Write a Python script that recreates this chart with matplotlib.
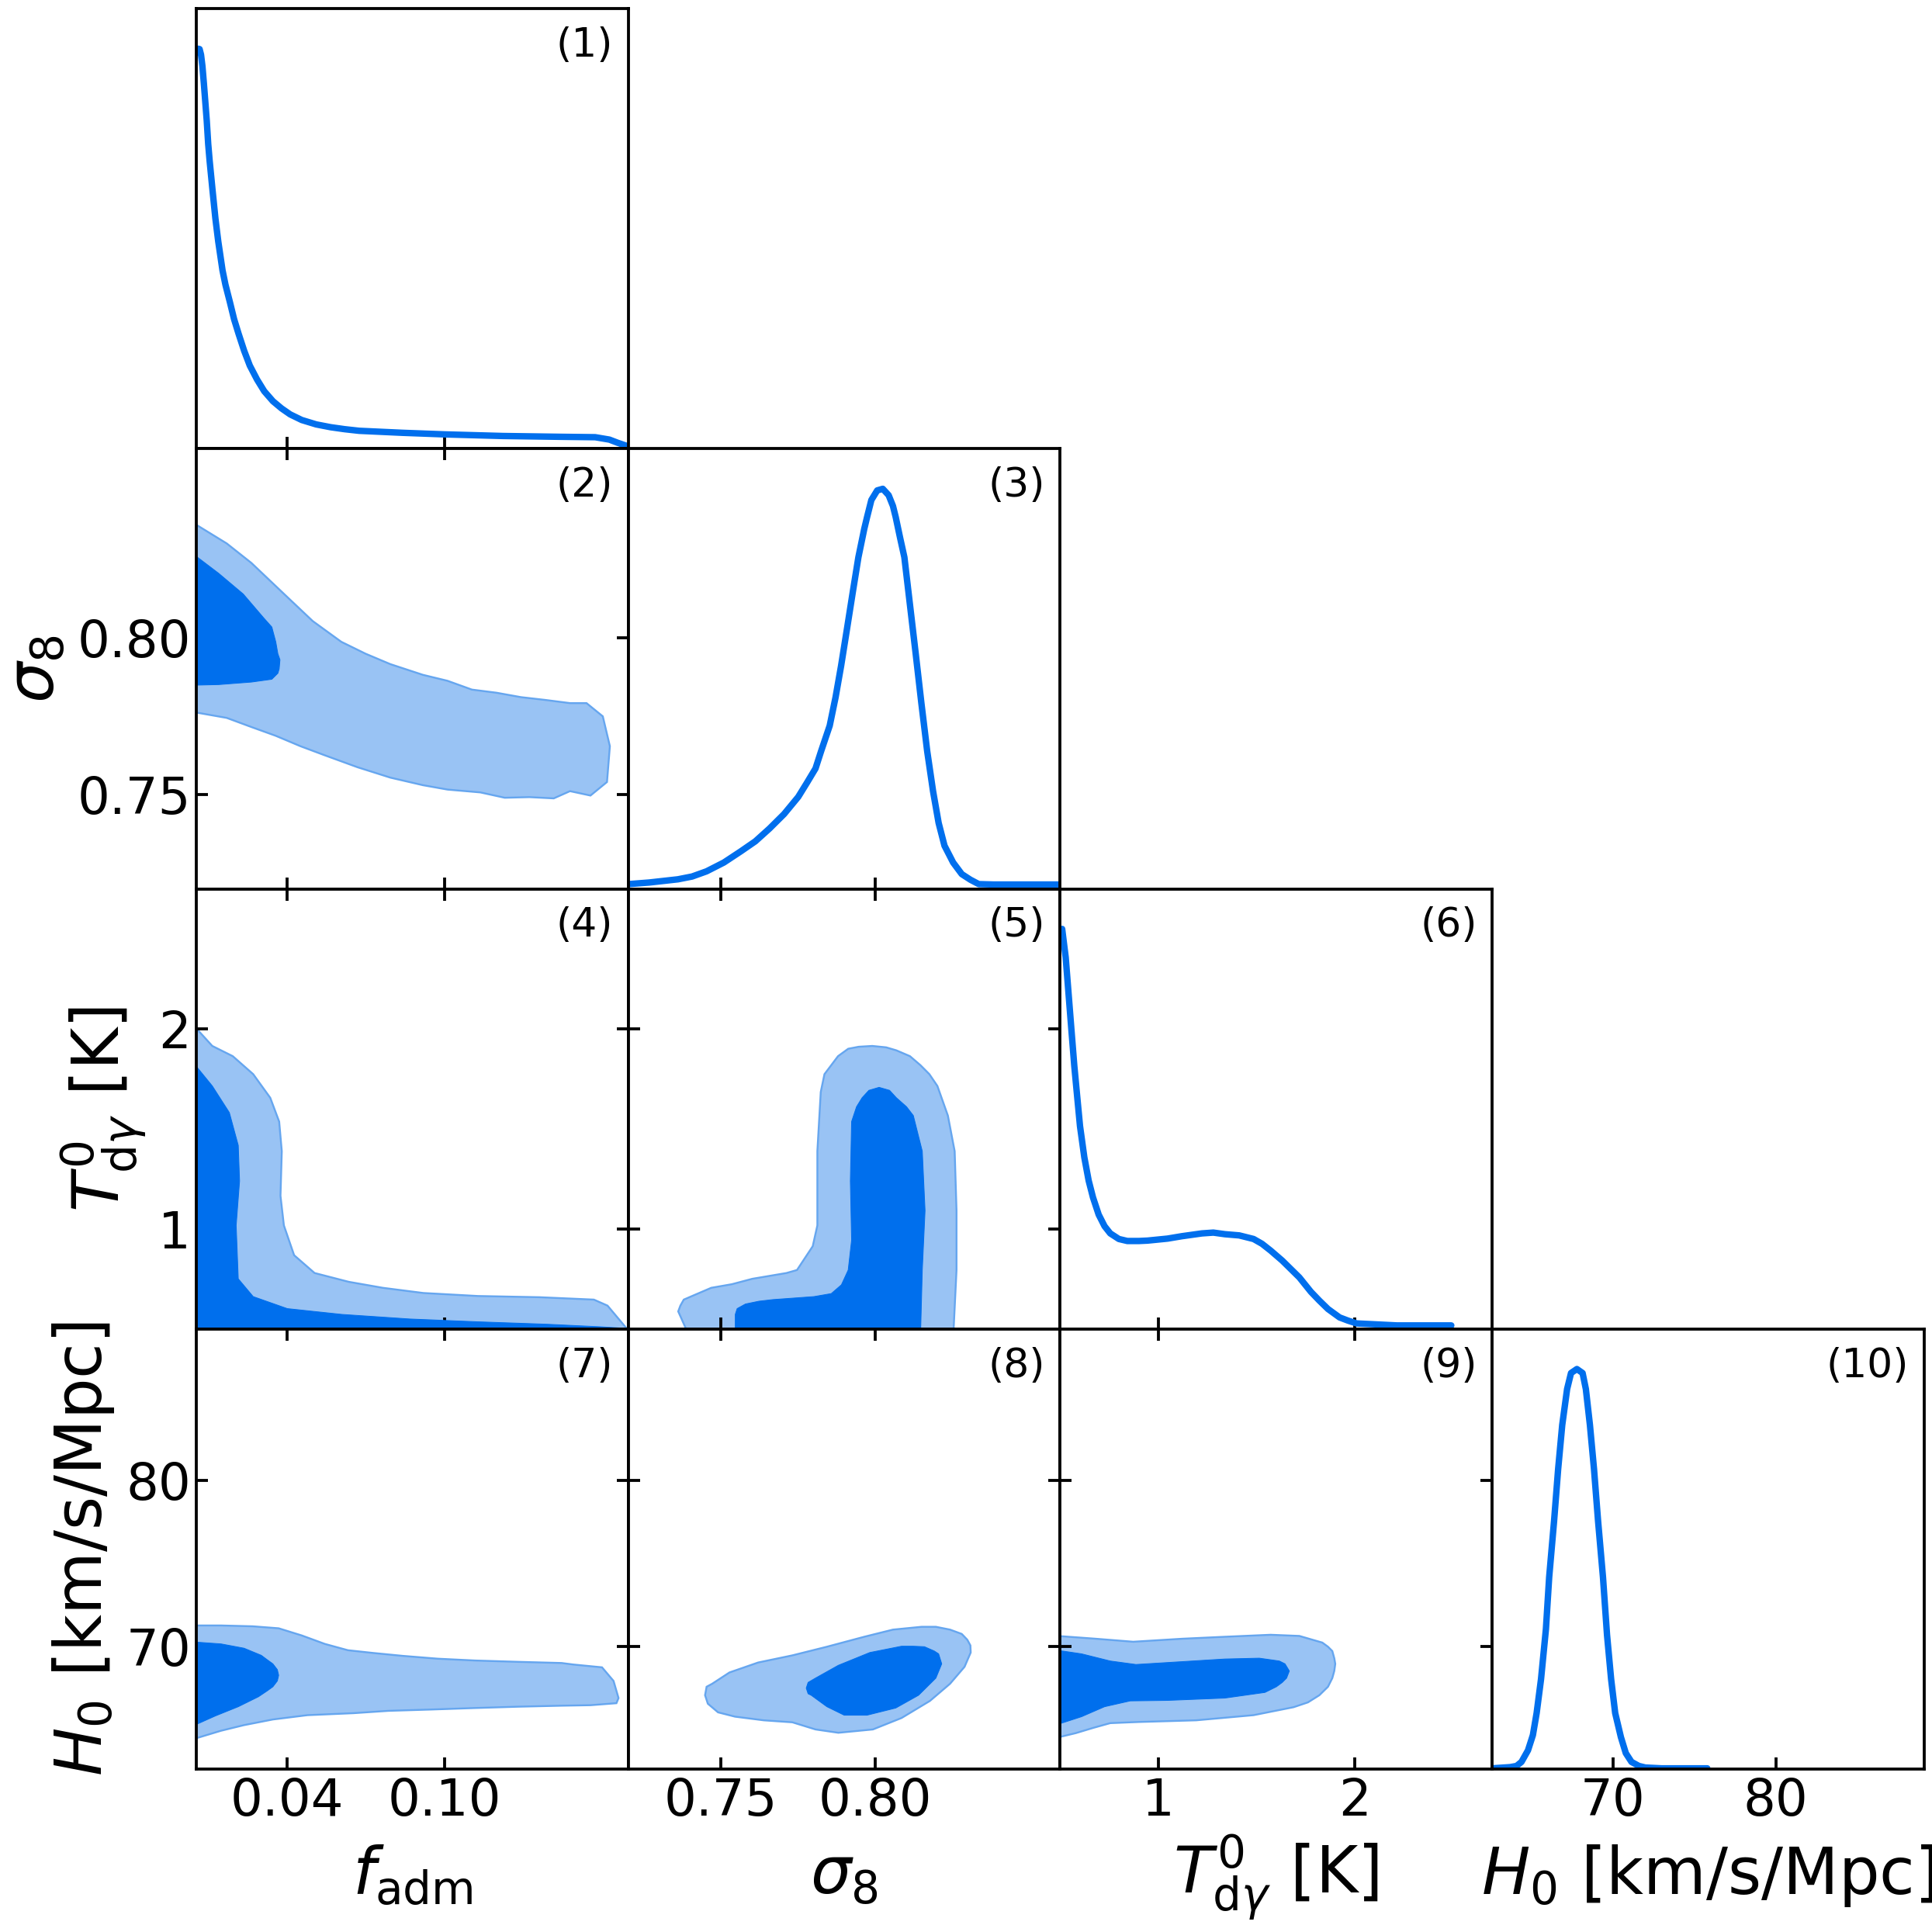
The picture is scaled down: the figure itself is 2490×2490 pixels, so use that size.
import matplotlib
matplotlib.use('Agg')
import matplotlib.pyplot as plt

# axis ranges and ticks
f_lim = (0.0053, 0.170)
s_lim = (0.72, 0.86)
t_lim = (0.50, 2.70)
h_lim = (62.6, 89.1)

f_ticks = [0.04, 0.10]
f_ticklabels = ['0.04', '0.10']
s_ticks = [0.75, 0.80]
s_ticklabels = ['0.75', '0.80']
t_ticks = [1, 2]
t_ticklabels = ['1', '2']
h_ticks = [70, 80]
h_ticklabels = ['70', '80']

labels = [r'$f_{\rm adm}$', r'$\sigma_8$', r'$T^0_{{\rm d}\gamma}$ [K]', r'$H_0$ [km/s/Mpc]']

# 1D marginals (peak normalised to 1)
f1 = [0.0053, 0.0060, 0.00655, 0.0071, 0.00764, 0.00819, 0.0087, 0.00929, 0.00984, 0.0104,
      0.01148, 0.0126, 0.01368, 0.0153, 0.01642, 0.0181, 0.01971, 0.0214, 0.02355, 0.0257,
      0.02848, 0.0312, 0.03452, 0.0378, 0.0411, 0.0455, 0.0510, 0.0565, 0.0619, 0.0674,
      0.0839, 0.1003, 0.1223, 0.1442, 0.1574, 0.1628, 0.1660, 0.1700]
d1 = [0.99, 1.0, 0.999, 0.985, 0.956, 0.913, 0.870, 0.820, 0.762, 0.719,
      0.647, 0.575, 0.518, 0.446, 0.410, 0.367, 0.324, 0.288, 0.245, 0.208,
      0.173, 0.144, 0.119, 0.101, 0.086, 0.072, 0.061, 0.054, 0.049, 0.045,
      0.040, 0.036, 0.032, 0.030, 0.029, 0.023, 0.015, 0.006]

s3 = [0.7201, 0.7268, 0.7361, 0.7407, 0.7454, 0.7510, 0.7565, 0.7612, 0.7658, 0.7705,
      0.7751, 0.7779, 0.7807, 0.7825, 0.7853, 0.7872, 0.7890, 0.7909, 0.7928, 0.7946,
      0.7965, 0.7974, 0.7988, 0.8007, 0.8025, 0.8044, 0.8058, 0.8067, 0.8081, 0.8095,
      0.8132, 0.8150, 0.8169, 0.8188, 0.8206, 0.8225, 0.8253, 0.8281, 0.8309, 0.8336,
      0.8383, 0.8600]
d3 = [0.012, 0.016, 0.024, 0.031, 0.044, 0.066, 0.094, 0.119, 0.151, 0.187,
      0.230, 0.265, 0.301, 0.344, 0.408, 0.479, 0.558, 0.650, 0.743, 0.829,
      0.900, 0.929, 0.972, 0.996, 1.0, 0.984, 0.957, 0.929, 0.878, 0.829,
      0.586, 0.465, 0.344, 0.244, 0.165, 0.108, 0.066, 0.037, 0.023, 0.012,
      0.011, 0.011]

t6 = [0.51, 0.528, 0.543, 0.558, 0.572, 0.587, 0.601, 0.623, 0.645, 0.667,
      0.696, 0.726, 0.755, 0.799, 0.842, 0.901, 0.945, 1.047, 1.12, 1.222,
      1.28, 1.339, 1.412, 1.485, 1.528, 1.572, 1.631, 1.718, 1.777, 1.820,
      1.864, 1.923, 1.966, 2.01, 2.215, 2.492]
d6 = [1.0, 0.929, 0.836, 0.743, 0.657, 0.579, 0.507, 0.429, 0.371, 0.329,
      0.286, 0.257, 0.239, 0.225, 0.220, 0.220, 0.221, 0.226, 0.232, 0.239,
      0.241, 0.237, 0.234, 0.225, 0.213, 0.196, 0.171, 0.129, 0.093, 0.071,
      0.050, 0.029, 0.021, 0.014, 0.009, 0.009]

h10 = [62.6, 63.7, 64.1, 64.4, 64.8, 65.1, 65.33, 65.6, 65.9, 66.1, 66.4, 66.65, 66.9,
       67.2, 67.44, 67.8, 68.15, 68.35, 68.6, 68.85, 69.1, 69.4, 69.65, 69.9, 70.15,
       70.5, 70.8, 71.15, 71.6, 72.0, 73.0, 75.8]
d10 = [0.002, 0.005, 0.008, 0.018, 0.047, 0.085, 0.14, 0.225, 0.35, 0.48, 0.62, 0.75, 0.86,
       0.95, 0.99, 1.0, 0.99, 0.95, 0.86, 0.75, 0.62, 0.48, 0.335, 0.225, 0.14,
       0.08, 0.04, 0.018, 0.008, 0.004, 0.002, 0.002]

# 2D contours, 95% (out) and 68% (in)
# (2) f_adm - sigma8
p2_out_x = [0.004, 0.0169, 0.0263, 0.0388, 0.0497, 0.0606, 0.0699, 0.0793, 0.0917, 0.1011,
            0.1104, 0.1198, 0.1291, 0.1385, 0.1478, 0.1541, 0.1603, 0.1630, 0.1619, 0.1556,
            0.1478, 0.1416, 0.1323, 0.1229, 0.1136, 0.1011, 0.0917, 0.0793, 0.0668, 0.0543,
            0.0450, 0.0356, 0.0263, 0.0169, 0.004]
p2_out_y = [0.8365, 0.8299, 0.8237, 0.8138, 0.8052, 0.7986, 0.7948, 0.7915, 0.7881, 0.7862,
            0.7834, 0.7824, 0.7810, 0.7801, 0.7791, 0.7791, 0.7749, 0.7654, 0.7540, 0.7497,
            0.7511, 0.7488, 0.7492, 0.7490, 0.7507, 0.7516, 0.7530, 0.7554, 0.7587, 0.7625,
            0.7654, 0.7687, 0.7715, 0.7744, 0.7763]
p2_in_x = [0.004, 0.0138, 0.0232, 0.0310, 0.0341, 0.0356, 0.0364, 0.0372, 0.0369, 0.0364,
           0.0341, 0.0263, 0.0138, 0.004]
p2_in_y = [0.8266, 0.8204, 0.8138, 0.8062, 0.8033, 0.7986, 0.7948, 0.7929, 0.7900, 0.7886,
           0.7867, 0.7858, 0.7850, 0.7848]

# (4) f_adm - T
p4_out_x = [0.004, 0.0055, 0.0114, 0.0192, 0.0270, 0.0335, 0.0369, 0.0379, 0.0374, 0.0387,
            0.0426, 0.0504, 0.0634, 0.0764, 0.0919, 0.1127, 0.1361, 0.1569, 0.1621, 0.1694,
            0.175, 0.004]
p4_out_y = [2.00, 2.00, 1.915, 1.864, 1.774, 1.656, 1.537, 1.389, 1.166, 1.018,
            0.869, 0.780, 0.736, 0.706, 0.680, 0.665, 0.659, 0.647, 0.617, 0.503,
            0.45, 0.45]
p4_in_x = [0.004, 0.0114, 0.0179, 0.0213, 0.0218, 0.0205, 0.0213, 0.0270, 0.04, 0.0608,
           0.0868, 0.1127, 0.1387, 0.1595, 0.1694, 0.175, 0.004]
p4_in_y = [1.834, 1.715, 1.582, 1.418, 1.240, 1.018, 0.751, 0.662, 0.602, 0.573,
           0.550, 0.536, 0.524, 0.511, 0.503, 0.45, 0.45]

# (5) sigma8 - T
p5_out_x = [0.7402, 0.7362, 0.7369, 0.7380, 0.7413, 0.7469, 0.7536, 0.7602, 0.7713, 0.7747,
            0.7798, 0.7813, 0.7813, 0.7824, 0.7836, 0.7858, 0.7880, 0.7913, 0.7947, 0.7991,
            0.8036, 0.8069, 0.8113, 0.8147, 0.8176, 0.8202, 0.8236, 0.8258, 0.8264, 0.8264,
            0.8253]
p5_out_y = [0.45, 0.588, 0.617, 0.647, 0.669, 0.706, 0.724, 0.751, 0.780, 0.795,
            0.914, 1.018, 1.389, 1.685, 1.774, 1.819, 1.864, 1.901, 1.911, 1.915,
            1.908, 1.893, 1.864, 1.819, 1.774, 1.715, 1.567, 1.389, 1.092, 0.795,
            0.45]
p5_in_x = [0.7547, 0.7547, 0.7553, 0.758, 0.7624, 0.7669, 0.7802, 0.7858, 0.7891, 0.7913,
           0.7924, 0.792, 0.7924, 0.794, 0.7958, 0.798, 0.8013, 0.8047, 0.8069, 0.8102,
           0.8124, 0.8153, 0.8162, 0.8153, 0.8147]
p5_in_y = [0.45, 0.573, 0.602, 0.625, 0.639, 0.647, 0.662, 0.677, 0.721, 0.795,
           0.944, 1.240, 1.537, 1.611, 1.656, 1.693, 1.708, 1.693, 1.656, 1.611,
           1.567, 1.389, 1.092, 0.795, 0.45]

# (7) f_adm - H0
p7_out_x = [0.004, 0.0147, 0.0268, 0.0367, 0.0455, 0.0543, 0.0631, 0.0730, 0.0840, 0.0973,
            0.1116, 0.1281, 0.1446, 0.1490, 0.1600, 0.1644, 0.1663, 0.1655, 0.1556, 0.1446,
            0.1281, 0.1116, 0.0950, 0.0785, 0.0653, 0.0477, 0.0345, 0.0235, 0.0147, 0.004]
p7_out_y = [71.25, 71.25, 71.20, 71.08, 70.65, 70.14, 69.76, 69.59, 69.42, 69.25,
            69.14, 69.06, 68.99, 68.90, 68.73, 67.91, 66.88, 66.57, 66.45, 66.42,
            66.36, 66.28, 66.19, 66.11, 65.97, 65.85, 65.59, 65.25, 64.91, 64.40]
p7_in_x = [0.004, 0.0147, 0.0235, 0.0301, 0.0323, 0.0345, 0.0362, 0.0367, 0.0362, 0.0345,
           0.0323, 0.0290, 0.0213, 0.0125, 0.004]
p7_in_y = [70.26, 70.14, 69.88, 69.45, 69.19, 68.94, 68.59, 68.25, 67.91, 67.56,
           67.31, 66.96, 66.36, 65.80, 65.20]

# (8) sigma8 - H0
p8_out_x = [0.7454, 0.7472, 0.7528, 0.7621, 0.7732, 0.7844, 0.7965, 0.8058, 0.8151, 0.8197,
            0.8243, 0.8281, 0.8299, 0.8309, 0.8310, 0.8290, 0.8243, 0.8178, 0.8086, 0.7993,
            0.7881, 0.7807, 0.7732, 0.7639, 0.7546, 0.7491, 0.7458, 0.7449]
p8_out_y = [67.56, 67.74, 68.42, 69.02, 69.45, 69.97, 70.57, 71.00, 71.17, 71.17,
            71.00, 70.74, 70.39, 70.05, 69.62, 68.76, 67.74, 66.71, 65.68, 64.99,
            64.79, 64.99, 65.42, 65.54, 65.76, 66.02, 66.54, 67.05]
p8_in_x = [0.7783, 0.7807, 0.7881, 0.7983, 0.8086, 0.8123, 0.8160, 0.8192, 0.8206, 0.8216,
           0.8197, 0.8141, 0.8067, 0.7974, 0.7900, 0.7844, 0.7793, 0.7783, 0.7777]
p8_in_y = [67.82, 68.08, 68.85, 69.62, 70.00, 70.00, 69.97, 69.71, 69.54, 68.94,
           68.08, 67.05, 66.28, 65.85, 65.85, 66.36, 67.05, 67.14, 67.48]

# (9) T - H0
p9_out_x = [0.45, 0.682, 0.872, 1.12, 1.339, 1.572, 1.718, 1.835, 1.864, 1.886,
            1.896, 1.901, 1.896, 1.886, 1.864, 1.82, 1.762, 1.689, 1.485, 1.193,
            0.901, 0.755, 0.667, 0.58, 0.45]
p9_out_y = [70.65, 70.45, 70.27, 70.45, 70.57, 70.69, 70.62, 70.22, 69.97, 69.71,
            69.28, 68.94, 68.51, 68.08, 67.56, 67.05, 66.62, 66.33, 65.85, 65.54,
            65.44, 65.37, 65.08, 64.77, 64.40]
p9_in_x = [0.45, 0.609, 0.755, 0.886, 1.12, 1.339, 1.514, 1.616, 1.645, 1.667,
           1.653, 1.631, 1.601, 1.543, 1.339, 1.047, 0.857, 0.726, 0.609, 0.45]
p9_in_y = [69.82, 69.54, 69.11, 68.90, 69.07, 69.23, 69.28, 69.11, 68.94, 68.51,
           68.08, 67.82, 67.56, 67.22, 66.88, 66.74, 66.71, 66.36, 65.76, 65.15]

dark = '#006FED'
light = '#99C3F4'
edge = '#66A6EF'

lims = [f_lim, s_lim, t_lim, h_lim]
ticks = [f_ticks, s_ticks, t_ticks, h_ticks]
ticklabels = [f_ticklabels, s_ticklabels, t_ticklabels, h_ticklabels]

fig, axes = plt.subplots(4, 4, figsize=(10, 10), dpi=249)
fig.subplots_adjust(left=0.1016, right=0.9959, bottom=0.0843, top=0.9955, wspace=0, hspace=0)

curves = {0: (f1, d1), 1: (s3, d3), 2: (t6, d6), 3: (h10, d10)}
contours = {
    (1, 0): (p2_out_x, p2_out_y, p2_in_x, p2_in_y),
    (2, 0): (p4_out_x, p4_out_y, p4_in_x, p4_in_y),
    (2, 1): (p5_out_x, p5_out_y, p5_in_x, p5_in_y),
    (3, 0): (p7_out_x, p7_out_y, p7_in_x, p7_in_y),
    (3, 1): (p8_out_x, p8_out_y, p8_in_x, p8_in_y),
    (3, 2): (p9_out_x, p9_out_y, p9_in_x, p9_in_y),
}

n = 1
for i in range(4):
    for j in range(4):
        ax = axes[i, j]
        if j > i:
            ax.axis('off')
            continue
        for sp in ax.spines.values():
            sp.set_linewidth(1.1)
        ax.set_xlim(lims[j])
        ax.set_xticks(ticks[j])
        ax.set_xticklabels(ticklabels[j])
        if i == j:
            x, d = curves[i]
            ax.plot(x, d, color=dark, lw=2.4, solid_capstyle='round', solid_joinstyle='round')
            ax.set_ylim(0, 1.1)
            ax.set_yticks([])
            ax.tick_params(axis='x', direction='in', length=4.3, width=1.1,
                           labelsize=19, pad=3, labelbottom=(i == 3))
        else:
            ox, oy, ix, iy = contours[(i, j)]
            ax.fill(ox, oy, facecolor=light, edgecolor=edge, lw=0.7, zorder=1)
            ax.fill(ix, iy, facecolor=dark, edgecolor=dark, lw=0.3, zorder=2)
            ax.set_ylim(lims[i])
            ax.set_yticks(ticks[i])
            ax.set_yticklabels(ticklabels[i])
            ax.tick_params(axis='both', direction='in', top=True, right=True,
                           length=4.3, width=1.1, labelsize=19)
            ax.tick_params(axis='x', pad=3, labelbottom=(i == 3))
            ax.tick_params(axis='y', pad=2, labelleft=(j == 0))
            if j == 0:
                ax.set_ylabel(labels[i], fontsize=24, labelpad=3.5)
        if i == 3:
            ax.set_xlabel(labels[j], fontsize=24, labelpad=25)
            ax.xaxis.label.set_va('baseline')
        ax.text(0.965, 0.96, '(%d)' % n, transform=ax.transAxes, ha='right', va='top',
                fontsize=15)
        n += 1

fig.savefig('out.png', dpi=249)
